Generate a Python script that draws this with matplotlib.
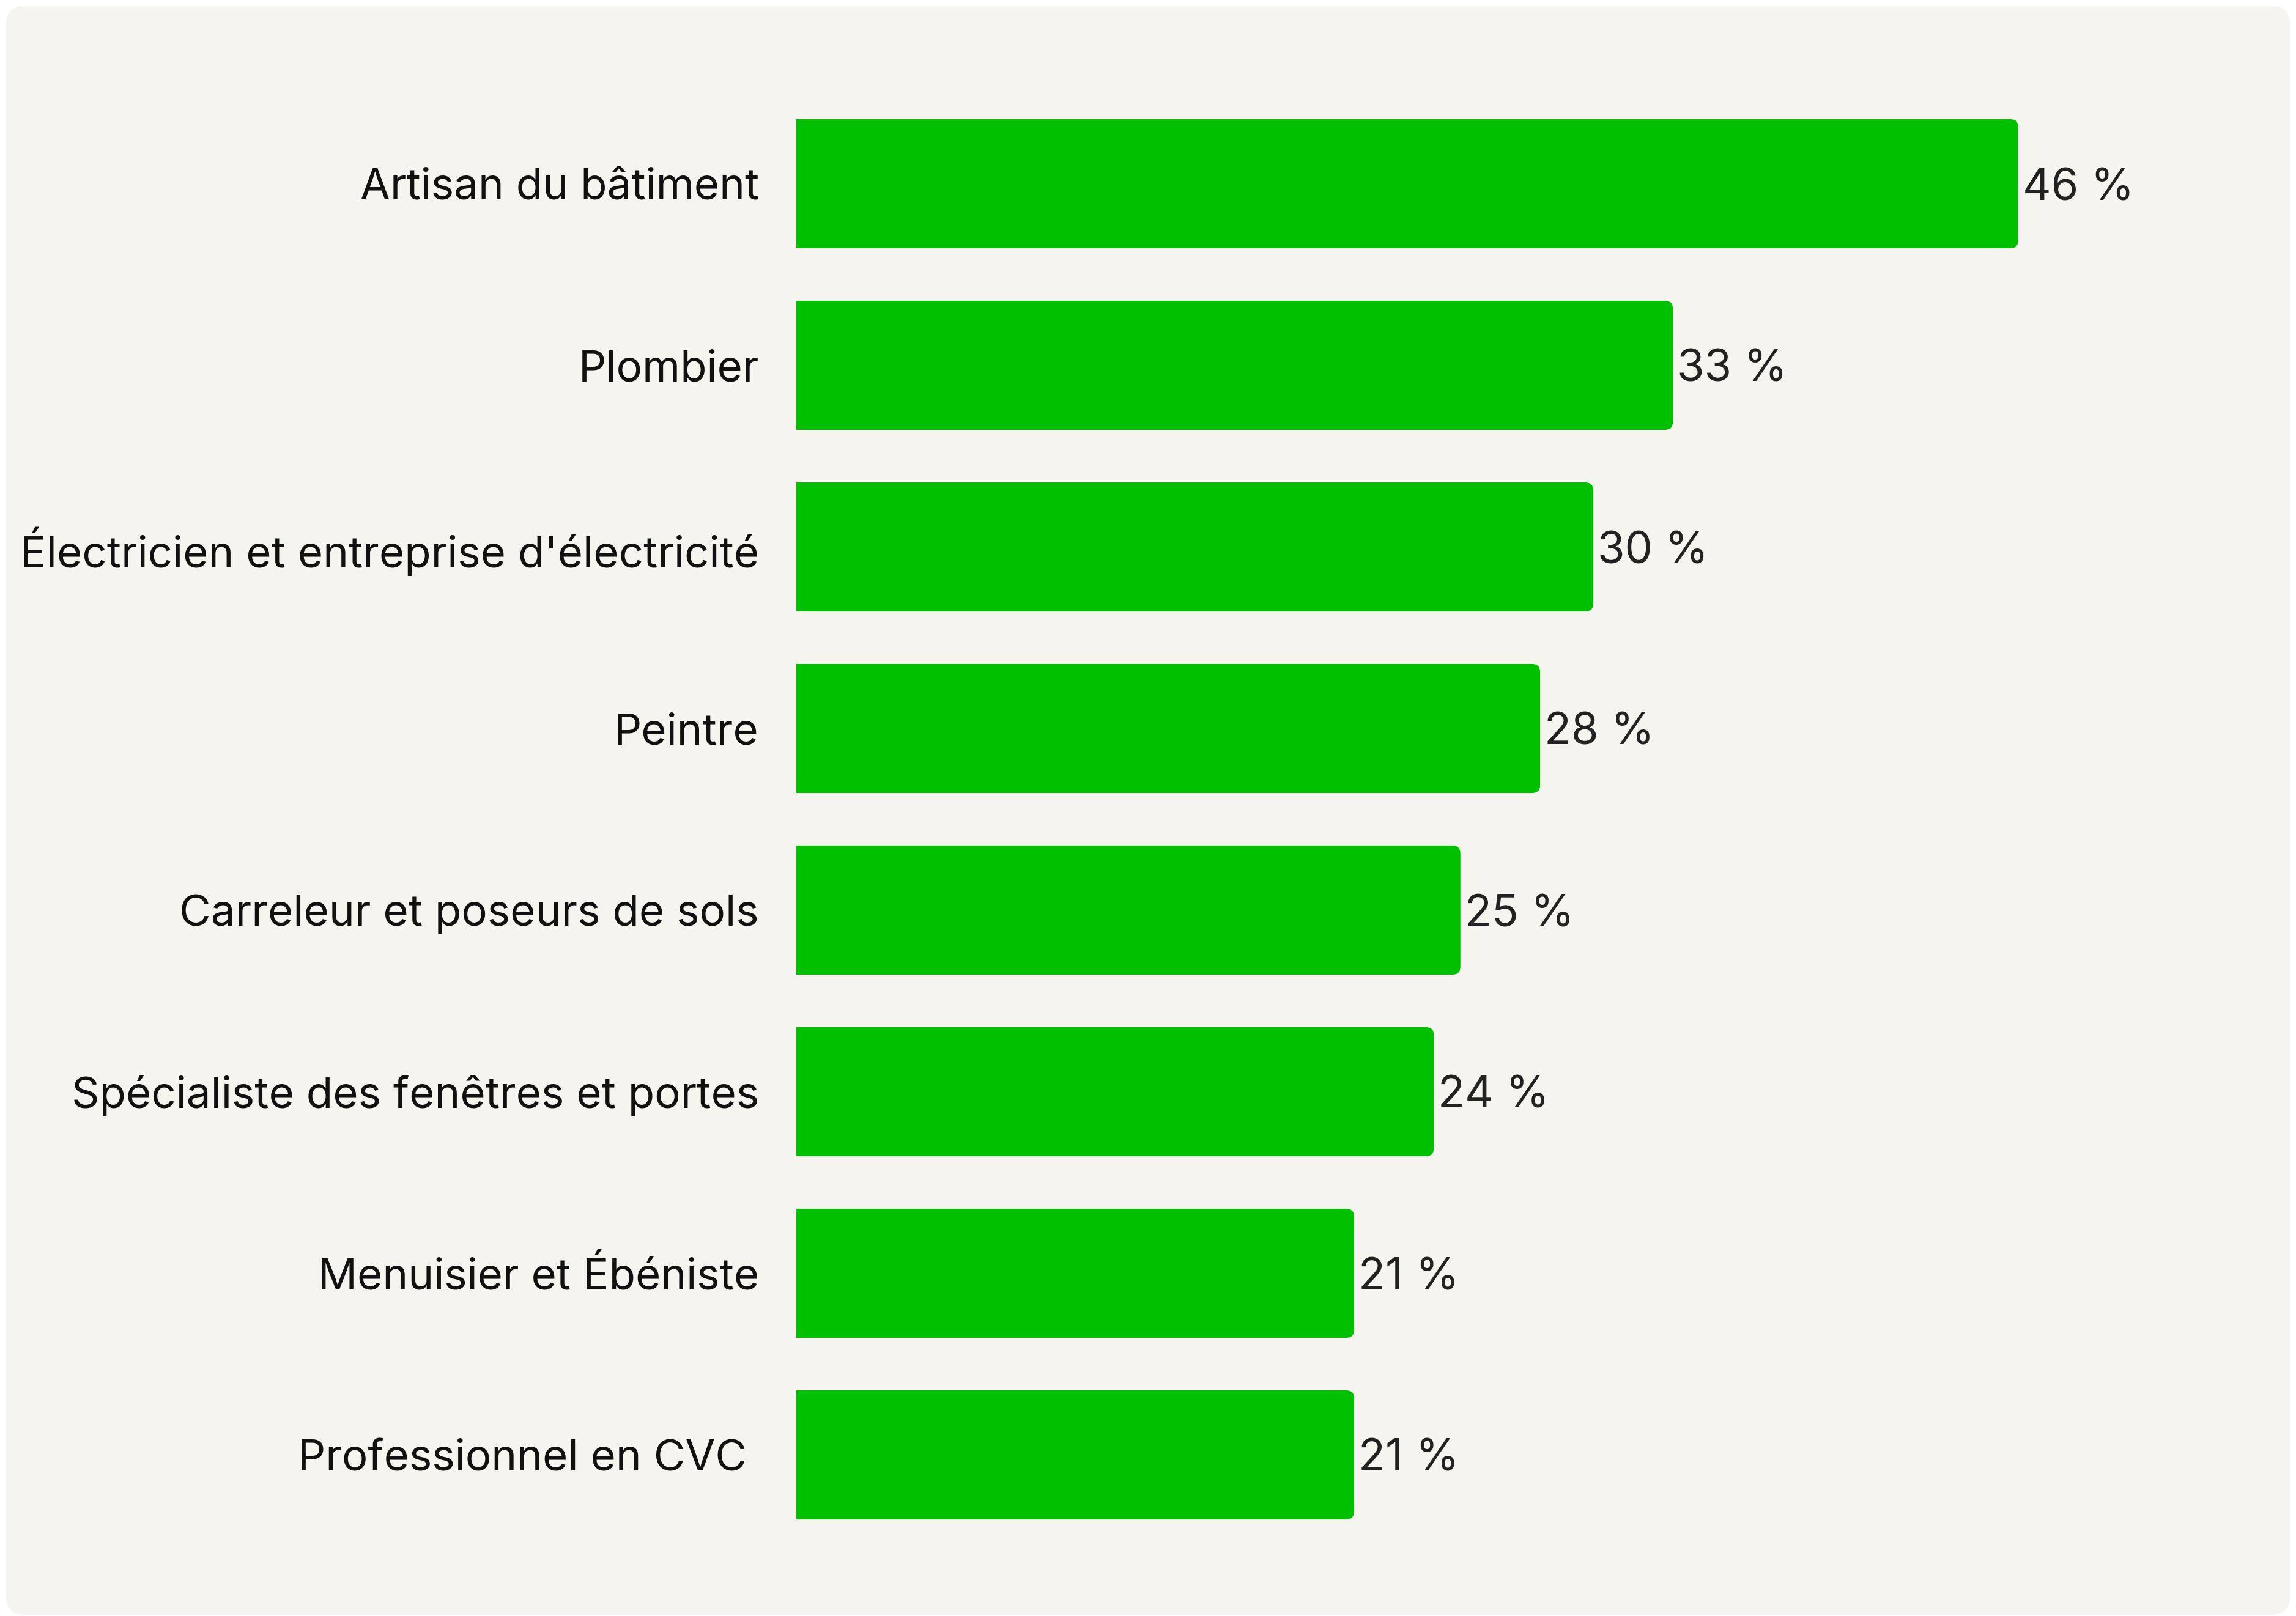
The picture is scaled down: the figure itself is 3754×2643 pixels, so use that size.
import matplotlib
matplotlib.use("Agg")
import matplotlib.pyplot as plt
from matplotlib.patches import FancyBboxPatch, Rectangle
import numpy as np

categories = [
    "Artisan du bâtiment",
    "Plombier",
    "Électricien et entreprise d'électricité",
    "Peintre",
    "Carreleur et poseurs de sols",
    "Spécialiste des fenêtres et portes",
    "Menuisier et Ébéniste",
    "Professionnel en CVC ",
]
values = [46, 33, 30, 28, 25, 24, 21, 21]
value_labels = ["46 %", "33 %", "30 %", "28 %", "25 %", "24 %", "21 %", "21 %"]

W, H, DPI = 3754, 2643, 100
BAR = "#00C000"
PANEL = "#F6F4EF"
FONT = "Inter"

fig = plt.figure(figsize=(W / DPI, H / DPI), dpi=DPI, facecolor="white")

# rounded panel background (display pixel coords, origin bottom-left)
panel = FancyBboxPatch((10, 2), 3744 - 10, H - 12,
                       boxstyle="round,pad=0,rounding_size=30",
                       transform=None, facecolor=PANEL,
                       edgecolor="none", zorder=-5)
fig.patches.append(panel)

px_per_pct = 43.43
xmax = 55
ax_left = 1302 / W
ax_w = xmax * px_per_pct / W
pitch = 297.0
c0 = 300.5
top_px = c0 - pitch / 2
bot_px = c0 + 7 * pitch + pitch / 2
ax = fig.add_axes([ax_left, 1 - bot_px / H, ax_w, (bot_px - top_px) / H])
ax.set_facecolor("none")
ax.set_zorder(3)

y = np.arange(len(categories))
bars = ax.barh(y, values, height=211 / pitch, color=BAR, zorder=2)
ax.set_xlim(0, xmax)
ax.set_ylim(len(categories) - 0.5, -0.5)
ax.set_yticks(y)
ax.set_yticklabels(categories, fontsize=51, family=FONT, color="#111111")
ax.tick_params(axis="y", length=0, pad=44)
ax.set_xticks([])
for s in ax.spines.values():
    s.set_visible(False)

# replace bars with right-rounded versions in display space
fig.canvas.draw()
r = 13
for b in bars:
    bb = b.get_window_extent()
    b.set_visible(False)
    x0, y0, x1, y1 = bb.x0, bb.y0, bb.x1, bb.y1
    rb = FancyBboxPatch((x0, y0), x1 - x0, y1 - y0,
                        boxstyle=f"round,pad=0,rounding_size={r}",
                        transform=None, facecolor=BAR, edgecolor="none", zorder=2)
    fig.patches.append(rb)
    sq = Rectangle((x0, y0), (x1 - x0) / 2, y1 - y0, transform=None,
                   facecolor=BAR, edgecolor="none", zorder=2)
    fig.patches.append(sq)

for yi, v, lab in zip(y, values, value_labels):
    ax.annotate(lab, (v, yi), xytext=(5, 0), textcoords="offset points",
                ha="left", va="center_baseline", fontsize=52, family=FONT,
                color="#222222")

fig.savefig("out.png", dpi=DPI, facecolor="white")
